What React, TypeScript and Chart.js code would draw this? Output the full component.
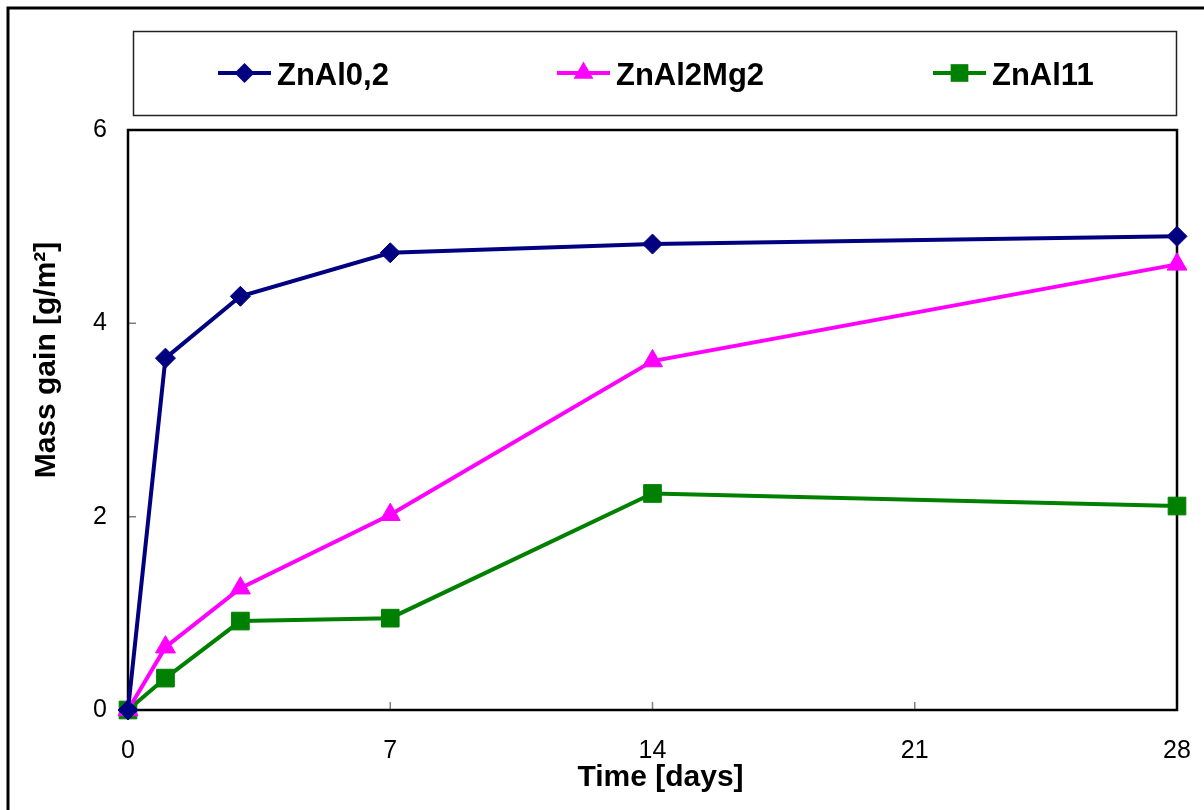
import React, { useEffect, useRef } from "react";
import { Chart, registerables } from "chart.js";

Chart.register(...registerables);

const days = [0, 1, 3, 7, 14, 28];
const seriesNames = ["ZnAl0,2", "ZnAl2Mg2", "ZnAl11"];
const znAl02 = [0, 3.64, 4.28, 4.73, 4.82, 4.9];
const znAl2Mg2 = [0, 0.65, 1.26, 2.02, 3.61, 4.61];
const znAl11 = [0, 0.33, 0.92, 0.95, 2.24, 2.11];
const xTicks = [0, 7, 14, 21, 28];
const yTicks = [0, 2, 4, 6];
const xTitle = "Time [days]";
const yTitle = "Mass gain [g/m²]";

const colors = ["#000080", "#FF00FF", "#008000"];
const styles = ["rectRot", "triangle", "rect"];
const radii = [10, 11.5, 12.5];
const FONT = "'Liberation Sans', Arial, sans-serif";

function drawMarker(ctx: CanvasRenderingContext2D, style: string, x: number, y: number, r: number) {
  ctx.beginPath();
  if (style === "rectRot") {
    ctx.moveTo(x - r, y);
    ctx.lineTo(x, y - r);
    ctx.lineTo(x + r, y);
    ctx.lineTo(x, y + r);
  } else if (style === "triangle") {
    ctx.moveTo(x, y - r);
    ctx.lineTo(x + r * 0.866, y + r * 0.5);
    ctx.lineTo(x - r * 0.866, y + r * 0.5);
  } else {
    const s = r * Math.SQRT1_2;
    ctx.rect(x - s, y - s, 2 * s, 2 * s);
  }
  ctx.closePath();
  ctx.fill();
}

const decor = {
  id: "decor",
  beforeDraw(chart: any) {
    const ctx = chart.ctx as CanvasRenderingContext2D;
    ctx.save();
    ctx.fillStyle = "#fff";
    ctx.fillRect(0, 0, chart.width, chart.height);
    ctx.strokeStyle = "#000";
    ctx.lineWidth = 3;
    ctx.strokeRect(8, 8, 1400, 1400);
    ctx.lineWidth = 1.5;
    ctx.strokeStyle = "#222";
    ctx.strokeRect(133.5, 31.5, 1043, 84);
    ctx.restore();
  },
  beforeDatasetsDraw(chart: any) {
    const ctx = chart.ctx as CanvasRenderingContext2D;
    const a = chart.chartArea;
    const xs = chart.scales.x;
    const ys = chart.scales.y;
    ctx.save();
    ctx.strokeStyle = "#808080";
    ctx.lineWidth = 1.5;
    ctx.beginPath();
    xs.ticks.forEach((t: any) => {
      const px = xs.getPixelForValue(t.value);
      ctx.moveTo(px, a.bottom);
      ctx.lineTo(px, a.bottom - 8);
    });
    ys.ticks.forEach((t: any) => {
      const py = ys.getPixelForValue(t.value);
      ctx.moveTo(a.left, py);
      ctx.lineTo(a.left + 8, py);
    });
    ctx.stroke();
    ctx.strokeStyle = "#000";
    ctx.lineWidth = 2.5;
    ctx.strokeRect(a.left, a.top, a.right - a.left, a.bottom - a.top);
    ctx.restore();
  },
  afterDraw(chart: any) {
    const ctx = chart.ctx as CanvasRenderingContext2D;
    const a = chart.chartArea;
    ctx.save();
    ctx.fillStyle = "#000";
    ctx.font = `bold 30px ${FONT}`;
    ctx.textAlign = "center";
    ctx.textBaseline = "middle";
    ctx.fillText(xTitle, (a.left + a.right) / 2 + 8, 778);
    ctx.translate(47, 360);
    ctx.rotate(-Math.PI / 2);
    ctx.fillText(yTitle, 0, 0);
    ctx.restore();

    const starts = [218, 557, 933];
    ctx.save();
    chart.data.datasets.forEach((ds: any, i: number) => {
      const x0 = starts[i];
      const y = 73;
      ctx.strokeStyle = ds.borderColor;
      ctx.lineWidth = 4;
      ctx.beginPath();
      ctx.moveTo(x0, y);
      ctx.lineTo(x0 + 53, y);
      ctx.stroke();
      ctx.fillStyle = ds.borderColor;
      drawMarker(ctx, ds.pointStyle, x0 + 26.5, y, ds.pointRadius);
      ctx.fillStyle = "#000";
      ctx.font = `bold 31px ${FONT}`;
      ctx.textAlign = "left";
      ctx.textBaseline = "alphabetic";
      ctx.fillText(ds.label, x0 + 59, 85);
    });
    ctx.restore();
  },
};

export default function App() {
  const ref = useRef<HTMLCanvasElement>(null);
  useEffect(() => {
    if (!ref.current) return;
    const values = [znAl02, znAl2Mg2, znAl11];
    const chart = new Chart(ref.current, {
      type: "line",
      data: {
        datasets: seriesNames.map((name, i) => ({
          label: name,
          data: days.map((d, j) => ({ x: d, y: values[i][j] })),
          borderColor: colors[i],
          backgroundColor: colors[i],
          pointBackgroundColor: colors[i],
          pointBorderColor: colors[i],
          pointBorderWidth: 1,
          pointStyle: styles[i] as any,
          pointRadius: radii[i],
          pointHoverRadius: radii[i],
          borderWidth: 4,
          tension: 0,
          clip: false as any,
        })),
      },
      options: {
        animation: false,
        responsive: false,
        devicePixelRatio: 1,
        layout: { autoPadding: false, padding: { left: 48, top: 130, right: 27, bottom: 30 } },
        plugins: { legend: { display: false }, tooltip: { enabled: false } },
        scales: {
          x: {
            type: "linear",
            min: 0,
            max: 28,
            afterBuildTicks: (s: any) => {
              s.ticks = xTicks.map((v) => ({ value: v }));
            },
            afterFit: (s: any) => {
              s.height = 70;
              s.paddingLeft = 0;
              s.paddingRight = 0;
            },
            grid: { display: false, drawTicks: false },
            border: { display: false },
            ticks: {
              padding: 26,
              color: "#000",
              font: { family: FONT, size: 25 },
              maxRotation: 0,
            },
          },
          y: {
            type: "linear",
            min: 0,
            max: 6,
            afterBuildTicks: (s: any) => {
              s.ticks = yTicks.map((v) => ({ value: v }));
            },
            afterFit: (s: any) => {
              s.width = 80;
              s.paddingTop = 0;
              s.paddingBottom = 0;
            },
            grid: { display: false, drawTicks: false },
            border: { display: false },
            ticks: {
              padding: 21,
              color: "#000",
              font: { family: FONT, size: 25 },
            },
          },
        },
      },
      plugins: [decor],
    });
    return () => chart.destroy();
  }, []);
  return (
    <div style={{ position: "fixed", left: 0, top: 0, width: 1204, height: 810, overflow: "hidden" }}>
      <canvas ref={ref} width={1204} height={810} style={{ display: "block" }} />
    </div>
  );
}
